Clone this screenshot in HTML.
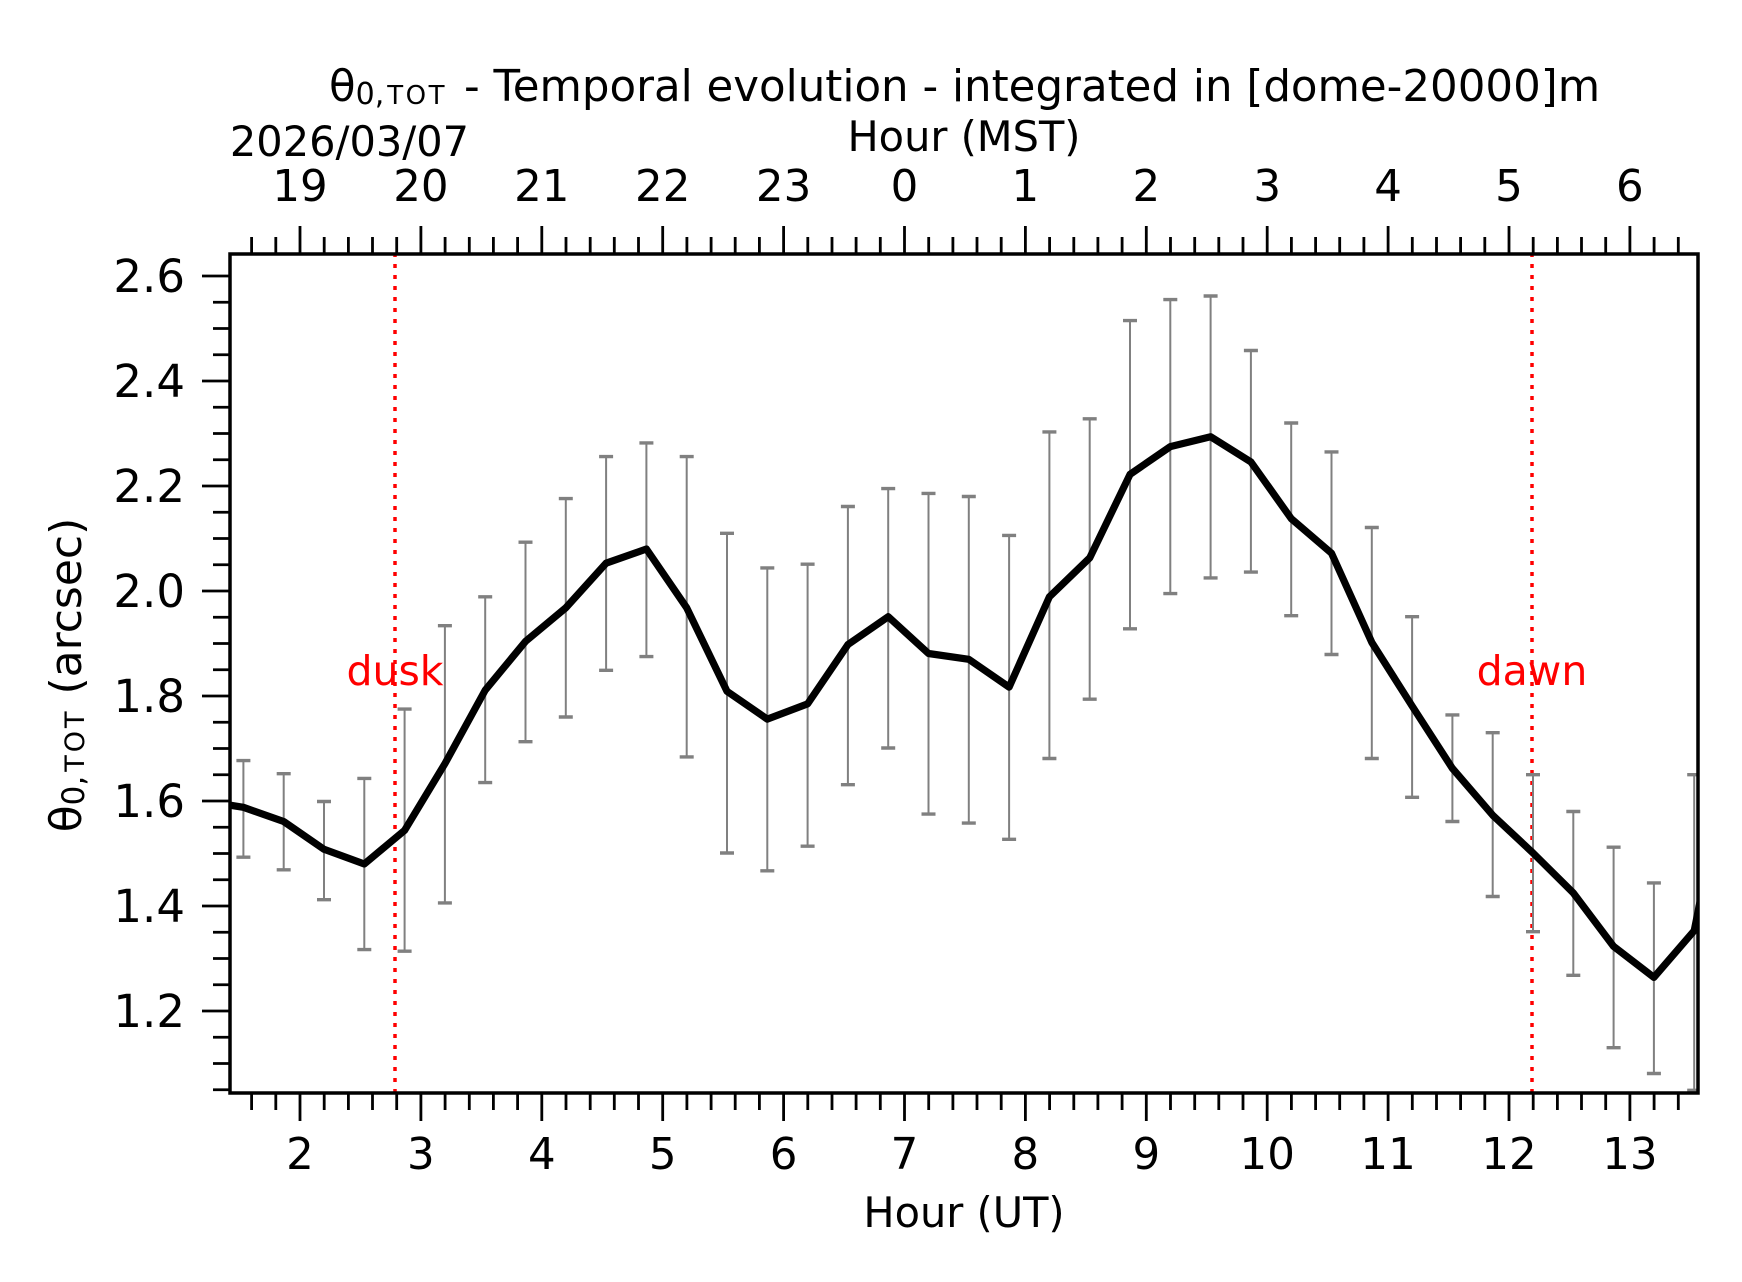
<!DOCTYPE html>
<html>
<head>
<meta charset="utf-8">
<style>
html,body{margin:0;padding:0;background:#fff;}
svg{display:block;}
text{font-family:"DejaVu Sans","Liberation Sans",sans-serif;fill:#000;}
</style>
</head>
<body>
<svg width="1742" height="1282" viewBox="0 0 1742 1282" xmlns="http://www.w3.org/2000/svg">
<rect x="0" y="0" width="1742" height="1282" fill="#fff"/>
<defs>
<clipPath id="ax"><rect x="230" y="254" width="1468" height="839"/></clipPath>
</defs>

<!-- title -->
<text y="101" font-size="43.5"><tspan x="329">θ</tspan><tspan font-size="30" dy="3">0,</tspan><tspan font-size="26" letter-spacing="2.5" dx="3">TOT</tspan></text>
<text x="464" y="101" font-size="43.5">- Temporal evolution - integrated in [dome-20000]m</text>
<text x="964" y="151" font-size="41.5" text-anchor="middle">Hour (MST)</text>
<text x="349.5" y="156" font-size="41.5" text-anchor="middle">2026/03/07</text>

<!-- dotted dusk/dawn lines -->
<g stroke="#ff0000" stroke-width="3.5" stroke-dasharray="4 7">
<line x1="395" y1="1093" x2="395" y2="254"/>
<line x1="1532" y1="1093" x2="1532" y2="254"/>
</g>

<!-- error bars -->
<g clip-path="url(#ax)" stroke="#808080" stroke-width="2" fill="none">
<path d="M243.4,760.6V857.2M283.7,773.7V869.8M324.0,801.5V899.7M364.3,778.4V949.6M404.6,709.1V951.2M444.9,625.7V902.9M485.2,596.8V782.6M525.5,542.2V741.7M565.8,498.6V717.0M606.1,456.6V670.3M646.4,442.9V656.6M686.7,456.6V756.9M727.0,533.3V853.0M767.3,567.9V870.8M807.6,564.2V846.2M847.9,506.5V784.7M888.2,488.6V748.0M928.5,493.4V814.1M968.8,496.5V823.1M1009.1,535.4V839.3M1049.4,431.9V758.5M1089.7,418.8V699.2M1130.0,320.6V628.8M1170.3,299.6V593.6M1210.6,296.0V577.9M1250.9,350.5V572.1M1291.2,423.0V615.7M1331.5,451.9V654.5M1371.8,527.5V758.5M1412.1,616.7V797.3M1452.4,714.9V821.5M1492.7,732.7V896.5M1533.0,774.7V931.7M1573.3,811.5V975.3M1613.6,847.2V1047.7M1653.9,882.9V1073.5M1694.2,774.7V1090.3"/>
</g>
<g clip-path="url(#ax)" stroke="#808080" stroke-width="3.4" fill="none">
<path d="M236.4,760.6h14M236.4,857.2h14M276.7,773.7h14M276.7,869.8h14M317.0,801.5h14M317.0,899.7h14M357.3,778.4h14M357.3,949.6h14M397.6,709.1h14M397.6,951.2h14M437.9,625.7h14M437.9,902.9h14M478.2,596.8h14M478.2,782.6h14M518.5,542.2h14M518.5,741.7h14M558.8,498.6h14M558.8,717.0h14M599.1,456.6h14M599.1,670.3h14M639.4,442.9h14M639.4,656.6h14M679.7,456.6h14M679.7,756.9h14M720.0,533.3h14M720.0,853.0h14M760.3,567.9h14M760.3,870.8h14M800.6,564.2h14M800.6,846.2h14M840.9,506.5h14M840.9,784.7h14M881.2,488.6h14M881.2,748.0h14M921.5,493.4h14M921.5,814.1h14M961.8,496.5h14M961.8,823.1h14M1002.1,535.4h14M1002.1,839.3h14M1042.4,431.9h14M1042.4,758.5h14M1082.7,418.8h14M1082.7,699.2h14M1123.0,320.6h14M1123.0,628.8h14M1163.3,299.6h14M1163.3,593.6h14M1203.6,296.0h14M1203.6,577.9h14M1243.9,350.5h14M1243.9,572.1h14M1284.2,423.0h14M1284.2,615.7h14M1324.5,451.9h14M1324.5,654.5h14M1364.8,527.5h14M1364.8,758.5h14M1405.1,616.7h14M1405.1,797.3h14M1445.4,714.9h14M1445.4,821.5h14M1485.7,732.7h14M1485.7,896.5h14M1526.0,774.7h14M1526.0,931.7h14M1566.3,811.5h14M1566.3,975.3h14M1606.6,847.2h14M1606.6,1047.7h14M1646.9,882.9h14M1646.9,1073.5h14M1687.2,774.7h14M1687.2,1090.3h14"/>
</g>

<!-- main line -->
<g clip-path="url(#ax)">
<path d="M203.1,801 L243.4,807.3 L283.7,821.5 L324.0,849.3 L364.3,864.0 L404.6,830.4 L444.9,763.7 L485.2,690.2 L525.5,641.4 L565.8,607.8 L606.1,563.2 L646.4,549.0 L686.7,607.8 L727.0,691.3 L767.3,719.1 L807.6,703.9 L847.9,644.6 L888.2,616.7 L928.5,653.5 L968.8,659.3 L1009.1,687.1 L1049.4,596.8 L1089.7,557.9 L1130.0,474.4 L1170.3,446.6 L1210.6,436.7 L1250.9,461.9 L1291.2,518.6 L1331.5,553.2 L1371.8,642.4 L1412.1,706.0 L1452.4,768.4 L1492.7,815.2 L1533.0,853.0 L1573.3,892.9 L1613.6,946.4 L1653.9,977.4 L1694.2,930.7 L1734.5,730" fill="none" stroke="#000" stroke-width="7.2" stroke-linejoin="round" stroke-linecap="round"/>
</g>

<!-- dusk / dawn labels -->
<text x="395" y="685" font-size="41" text-anchor="middle" style="fill:#ff0000">dusk</text>
<text x="1532" y="685" font-size="41" text-anchor="middle" style="fill:#ff0000">dawn</text>

<!-- spines -->
<rect x="230" y="254" width="1468" height="839" fill="none" stroke="#000" stroke-width="3.5"/>

<!-- ticks -->
<g stroke="#000" stroke-width="2.8">
<path d="M300,1093v28M420.9,1093v28M541.8,1093v28M662.7,1093v28M783.6,1093v28M904.5,1093v28M1025.4,1093v28M1146.3,1093v28M1267.2,1093v28M1388.1,1093v28M1509.0,1093v28M1629.9,1093v28"/>
<path d="M300,254v-28M420.9,254v-28M541.8,254v-28M662.7,254v-28M783.6,254v-28M904.5,254v-28M1025.4,254v-28M1146.3,254v-28M1267.2,254v-28M1388.1,254v-28M1509.0,254v-28M1629.9,254v-28"/>
<path d="M251.6,1093v17M275.8,1093v17M324.2,1093v17M348.4,1093v17M372.5,1093v17M396.7,1093v17M445.1,1093v17M469.3,1093v17M493.4,1093v17M517.6,1093v17M566.0,1093v17M590.2,1093v17M614.3,1093v17M638.5,1093v17M686.9,1093v17M711.1,1093v17M735.2,1093v17M759.4,1093v17M807.8,1093v17M832.0,1093v17M856.1,1093v17M880.3,1093v17M928.7,1093v17M952.9,1093v17M977.0,1093v17M1001.2,1093v17M1049.6,1093v17M1073.8,1093v17M1097.9,1093v17M1122.1,1093v17M1170.5,1093v17M1194.7,1093v17M1218.8,1093v17M1243.0,1093v17M1291.4,1093v17M1315.6,1093v17M1339.7,1093v17M1363.9,1093v17M1412.3,1093v17M1436.5,1093v17M1460.6,1093v17M1484.8,1093v17M1533.2,1093v17M1557.4,1093v17M1581.5,1093v17M1605.7,1093v17M1654.1,1093v17M1678.3,1093v17"/>
<path d="M251.6,254v-17M275.8,254v-17M324.2,254v-17M348.4,254v-17M372.5,254v-17M396.7,254v-17M445.1,254v-17M469.3,254v-17M493.4,254v-17M517.6,254v-17M566.0,254v-17M590.2,254v-17M614.3,254v-17M638.5,254v-17M686.9,254v-17M711.1,254v-17M735.2,254v-17M759.4,254v-17M807.8,254v-17M832.0,254v-17M856.1,254v-17M880.3,254v-17M928.7,254v-17M952.9,254v-17M977.0,254v-17M1001.2,254v-17M1049.6,254v-17M1073.8,254v-17M1097.9,254v-17M1122.1,254v-17M1170.5,254v-17M1194.7,254v-17M1218.8,254v-17M1243.0,254v-17M1291.4,254v-17M1315.6,254v-17M1339.7,254v-17M1363.9,254v-17M1412.3,254v-17M1436.5,254v-17M1460.6,254v-17M1484.8,254v-17M1533.2,254v-17M1557.4,254v-17M1581.5,254v-17M1605.7,254v-17M1654.1,254v-17M1678.3,254v-17"/>
<path d="M230,276h-28M230,381h-28M230,486h-28M230,591h-28M230,696h-28M230,801h-28M230,906h-28M230,1011h-28"/>
<path d="M230,1089.75h-17M230,1063.5h-17M230,1037.25h-17M230,984.75h-17M230,958.5h-17M230,932.25h-17M230,879.75h-17M230,853.5h-17M230,827.25h-17M230,774.75h-17M230,748.5h-17M230,722.25h-17M230,669.75h-17M230,643.5h-17M230,617.25h-17M230,564.75h-17M230,538.5h-17M230,512.25h-17M230,459.75h-17M230,433.5h-17M230,407.25h-17M230,354.75h-17M230,328.5h-17M230,302.25h-17"/>
</g>

<!-- y tick labels -->
<g font-size="45" text-anchor="end">
<text x="185" y="292">2.6</text>
<text x="185" y="397">2.4</text>
<text x="185" y="502">2.2</text>
<text x="185" y="607">2.0</text>
<text x="185" y="712">1.8</text>
<text x="185" y="817">1.6</text>
<text x="185" y="922">1.4</text>
<text x="185" y="1027">1.2</text>
</g>

<!-- bottom tick labels -->
<g font-size="43.5" text-anchor="middle">
<text x="300" y="1169">2</text>
<text x="420.9" y="1169">3</text>
<text x="541.8" y="1169">4</text>
<text x="662.7" y="1169">5</text>
<text x="783.6" y="1169">6</text>
<text x="904.5" y="1169">7</text>
<text x="1025.4" y="1169">8</text>
<text x="1146.3" y="1169">9</text>
<text x="1267.2" y="1169">10</text>
<text x="1388.1" y="1169">11</text>
<text x="1509.0" y="1169">12</text>
<text x="1629.9" y="1169">13</text>
</g>

<!-- top tick labels -->
<g font-size="43.5" text-anchor="middle">
<text x="300" y="201">19</text>
<text x="420.9" y="201">20</text>
<text x="541.8" y="201">21</text>
<text x="662.7" y="201">22</text>
<text x="783.6" y="201">23</text>
<text x="904.5" y="201">0</text>
<text x="1025.4" y="201">1</text>
<text x="1146.3" y="201">2</text>
<text x="1267.2" y="201">3</text>
<text x="1388.1" y="201">4</text>
<text x="1509.0" y="201">5</text>
<text x="1629.9" y="201">6</text>
</g>

<!-- axis labels -->
<text x="964" y="1227" font-size="41.5" text-anchor="middle">Hour (UT)</text>
<text transform="translate(81,675) rotate(-90)" text-anchor="middle" font-size="44">θ<tspan font-size="31" dy="3">0,</tspan><tspan font-size="27" letter-spacing="3" dx="4">TOT</tspan><tspan font-size="44" dy="-3"> (arcsec)</tspan></text>
</svg>
</body>
</html>
